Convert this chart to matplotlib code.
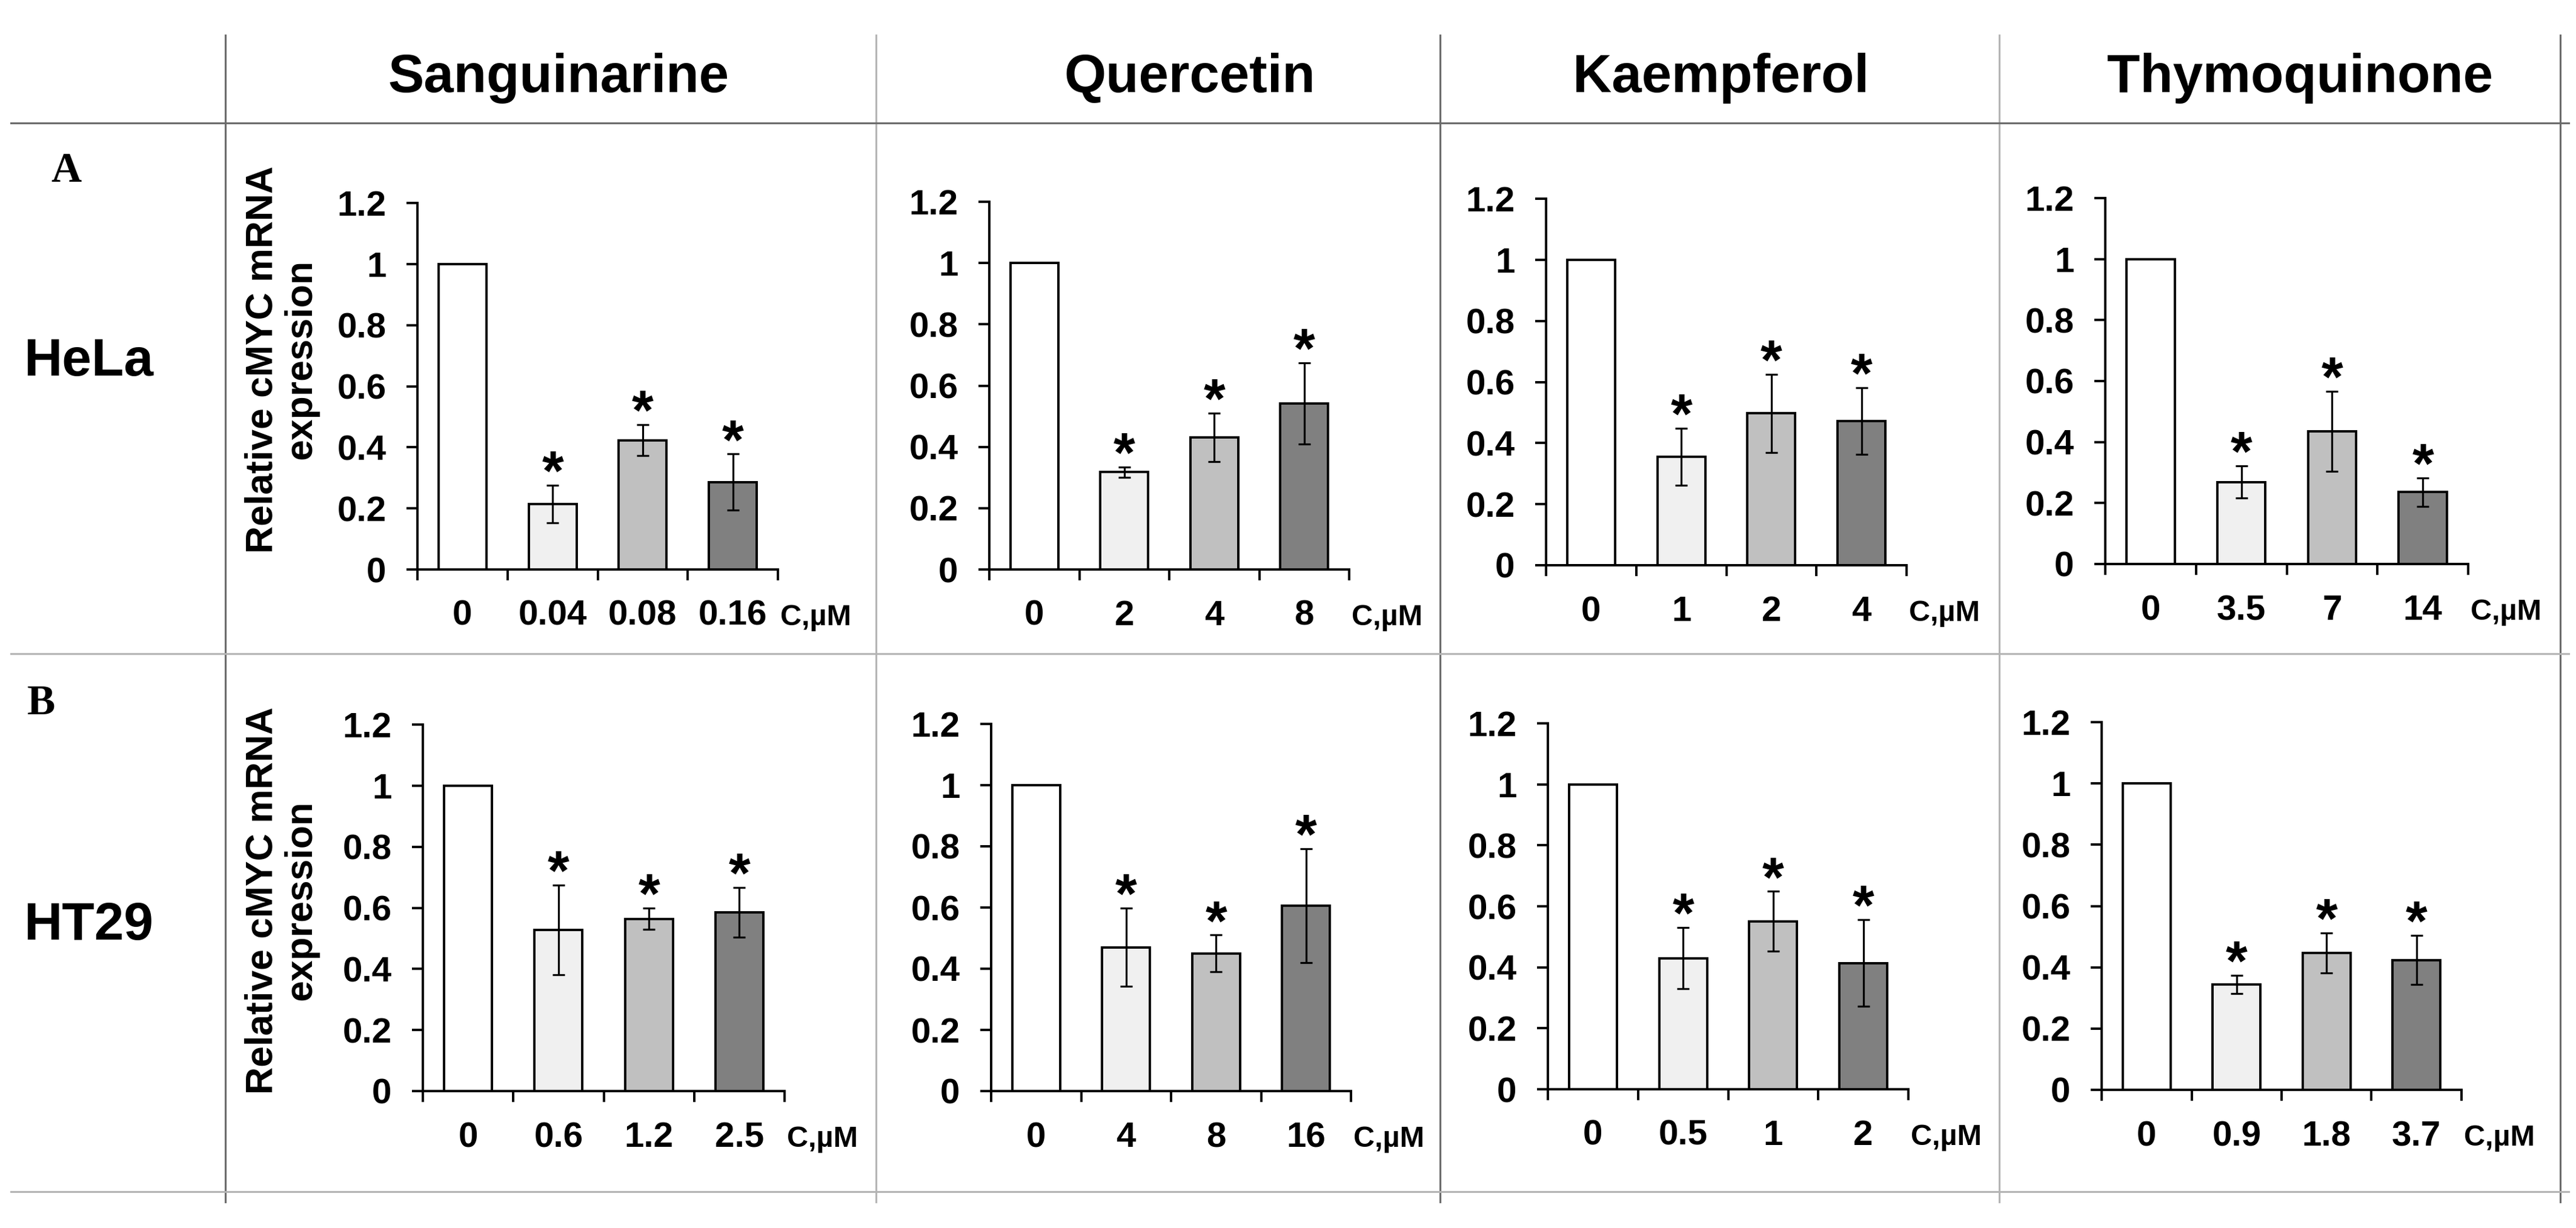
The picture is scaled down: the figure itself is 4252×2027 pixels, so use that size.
import numpy as np
import matplotlib
matplotlib.use("Agg")
import matplotlib.pyplot as plt
from matplotlib.lines import Line2D
from matplotlib import transforms

# figure size in pixels at dpi 100
W, H = 4252, 2027
DPI = 100

plt.rcParams['font.family'] = ['Liberation Sans', 'DejaVu Sans']
plt.rcParams['font.weight'] = 'bold'

# compounds (columns) and cell lines (rows)
compounds = ["Sanguinarine", "Quercetin", "Kaempferol", "Thymoquinone"]
cell_lines = ["HeLa", "HT29"]
row_letters = ["A", "B"]

# concentration labels, uM
conc_hela = [
    ["0", "0.04", "0.08", "0.16"],
    ["0", "2", "4", "8"],
    ["0", "1", "2", "4"],
    ["0", "3.5", "7", "14"],
]
conc_ht29 = [
    ["0", "0.6", "1.2", "2.5"],
    ["0", "4", "8", "16"],
    ["0", "0.5", "1", "2"],
    ["0", "0.9", "1.8", "3.7"],
]

# relative cMYC mRNA expression (mean) and error
expr_hela = [
    [1.0, 0.214, 0.423, 0.286],
    [1.0, 0.318, 0.431, 0.542],
    [1.0, 0.355, 0.497, 0.472],
    [1.0, 0.269, 0.435, 0.236],
]
err_hela = [
    [0.0, 0.061, 0.051, 0.092],
    [0.0, 0.017, 0.080, 0.132],
    [0.0, 0.094, 0.128, 0.110],
    [0.0, 0.053, 0.131, 0.047],
]
expr_ht29 = [
    [1.0, 0.528, 0.564, 0.585],
    [1.0, 0.470, 0.450, 0.606],
    [1.0, 0.430, 0.551, 0.414],
    [1.0, 0.344, 0.447, 0.424],
]
err_ht29 = [
    [0.0, 0.147, 0.035, 0.082],
    [0.0, 0.128, 0.060, 0.187],
    [0.0, 0.100, 0.098, 0.142],
    [0.0, 0.030, 0.065, 0.080],
]
# which bars are significant
signif = [False, True, True, True]

bar_colors = ["#ffffff", "#f0f0f0", "#c0c0c0", "#808080"]

# axes boxes in pixels: left, right, top(1.2), bottom(0)
boxes = [
    [(689, 1284, 335, 940), (1633, 2227, 333, 940), (2552, 3147, 328, 933), (3475, 4074, 327, 931)],
    [(698, 1295, 1196, 1801), (1636, 2230, 1195, 1801), (2555, 3150, 1194, 1798), (3469, 4063, 1192, 1799)],
]

fig = plt.figure(figsize=(W / DPI, H / DPI), dpi=DPI)
fig.patch.set_facecolor("white")


def fx(x):
    return x / W


def fy(y):
    return 1 - y / H


# table grid lines
dark = "#6a6a6a"
light = "#b4b4b4"
for x, c in [(372, dark), (1446, light), (2377, dark), (3300, light), (4226, dark)]:
    fig.add_artist(Line2D([fx(x), fx(x)], [fy(58), fy(1984)], color=c, lw=2.2))
for y, c in [(203, dark), (1079, light), (1967, light)]:
    fig.add_artist(Line2D([fx(18), fx(4240)], [fy(y), fy(y)], color=c, lw=2.2))

# column headers
header_x = [922, 1964, 2841, 3797]
for name, hx in zip(compounds, header_x):
    fig.text(fx(hx), fy(152), name, ha="center", va="baseline", fontsize=64, fontweight="bold")

# row labels
fig.text(fx(84), fy(300), "A", ha="left", va="baseline", fontsize=50, fontweight="bold",
         family=["Liberation Serif", "DejaVu Serif"])
fig.text(fx(45), fy(1179), "B", ha="left", va="baseline", fontsize=50, fontweight="bold",
         family=["Liberation Serif", "DejaVu Serif"])
fig.text(fx(39), fy(620), "HeLa", ha="left", va="baseline", fontsize=63, fontweight="bold")
fig.text(fx(39), fy(1551), "HT29", ha="left", va="baseline", fontsize=63, fontweight="bold")

# y axis titles (first column only)
for yc in [593, 1486]:
    fig.text(fx(465), fy(yc), "Relative cMYC mRNA\nexpression", rotation=90, ha="center", va="center",
             multialignment="center", fontsize=45, fontweight="bold", linespacing=1.12)

all_conc = [conc_hela, conc_ht29]
all_expr = [expr_hela, expr_ht29]
all_err = [err_hela, err_ht29]

lw = 2.8
star_fs = 66
for r in range(2):
    for c in range(4):
        l, rr, t, b = boxes[r][c]
        ax = fig.add_axes([fx(l), fy(b), (rr - l) / W, (b - t) / H])
        vals = all_expr[r][c]
        errs = all_err[r][c]
        xpos = np.arange(4) + 0.5
        ax.bar(xpos, vals, width=0.53, color=bar_colors, edgecolor="black", linewidth=lw, zorder=2)
        for i in range(1, 4):
            ax.errorbar(xpos[i], vals[i], yerr=errs[i], fmt="none", ecolor="black",
                        elinewidth=2.3, capsize=7, capthick=2.3, zorder=3)
            if signif[i]:
                tr = transforms.offset_copy(ax.transData, fig=fig, y=-0.55 * star_fs, units="points")
                ax.text(xpos[i], vals[i] + errs[i] + 0.085, "*", transform=tr, ha="center",
                        va="baseline", fontsize=star_fs, fontweight="bold")
        ax.set_xlim(0, 4)
        ax.set_ylim(0, 1.2)
        for s in ["top", "right"]:
            ax.spines[s].set_visible(False)
        for s in ["left", "bottom"]:
            ax.spines[s].set_linewidth(lw)
        ax.set_facecolor("none")
        ax.set_yticks([0, 0.2, 0.4, 0.6, 0.8, 1.0, 1.2])
        ax.set_yticklabels(["0", "0.2", "0.4", "0.6", "0.8", "1", "1.2"])
        ax.set_xticks([0, 1, 2, 3, 4])
        ax.set_xticklabels([])
        ax.set_xticks(xpos, minor=True)
        ax.set_xticklabels(all_conc[r][c], minor=True)
        ax.tick_params(axis="both", which="major", direction="out", length=13, width=lw,
                       labelsize=42, pad=24)
        ax.tick_params(axis="x", which="minor", length=0, labelsize=42, pad=36)
        for lab in ax.get_xticklabels(minor=True) + ax.get_yticklabels():
            lab.set_fontweight("bold")
        ax.annotate("C,\u00b5M", xy=(1, 0), xycoords="axes fraction", xytext=(3, -66),
                    textcoords="offset points", ha="left", va="baseline", fontsize=35,
                    fontweight="bold", annotation_clip=False)

fig.savefig("out.png", dpi=DPI, facecolor="white")
